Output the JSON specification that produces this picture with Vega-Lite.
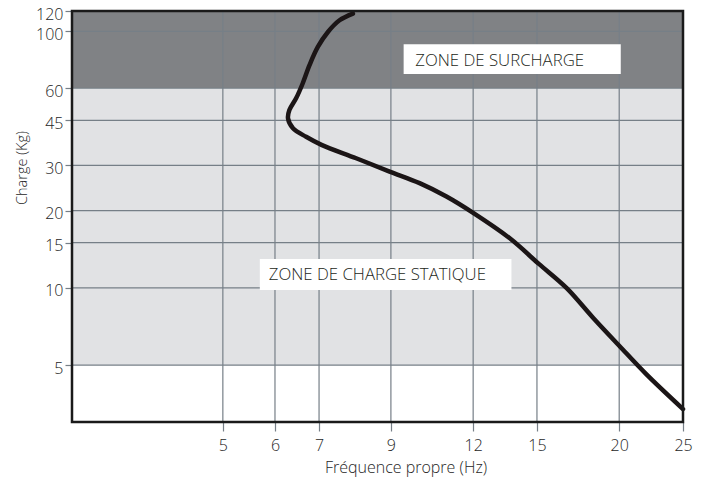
{
  "$schema": "https://vega.github.io/schema/vega-lite/v6.json",
  "autosize": "none",
  "width": 611,
  "height": 411,
  "padding": {"left": 72, "top": 11, "right": 24, "bottom": 65},
  "background": "white",
  "config": {
    "view": {"stroke": null},
    "font": "Open Sans"
  },
  "datasets": {
    "bands": [
      {"freq": 2.95, "freq2": 25, "charge": 60, "charge2": 120, "zone": "surcharge"},
      {"freq": 2.95, "freq2": 25, "charge": 5, "charge2": 60, "zone": "statique"}
    ],
    "vgrid": [{"freq": 5}, {"freq": 6}, {"freq": 7}, {"freq": 9}, {"freq": 12}, {"freq": 15}, {"freq": 20}],
    "hgrid": [{"charge": 5}, {"charge": 10}, {"charge": 15}, {"charge": 20}, {"charge": 30}, {"charge": 45}, {"charge": 60}, {"charge": 100}],
    "curve": [
      {"order": 1, "freq": 7.88, "charge": 117.2},
      {"order": 2, "freq": 7.52, "charge": 110.4},
      {"order": 3, "freq": 7.22, "charge": 99.4},
      {"order": 4, "freq": 6.97, "charge": 86.9},
      {"order": 5, "freq": 6.77, "charge": 73.8},
      {"order": 6, "freq": 6.61, "charge": 62.6},
      {"order": 7, "freq": 6.46, "charge": 54.8},
      {"order": 8, "freq": 6.31, "charge": 49.3},
      {"order": 9, "freq": 6.28, "charge": 45.8},
      {"order": 10, "freq": 6.39, "charge": 41.9},
      {"order": 11, "freq": 6.69, "charge": 38.8},
      {"order": 12, "freq": 7.06, "charge": 36.1},
      {"order": 13, "freq": 7.97, "charge": 32.0},
      {"order": 14, "freq": 8.96, "charge": 28.4},
      {"order": 15, "freq": 9.95, "charge": 25.6},
      {"order": 16, "freq": 10.93, "charge": 22.7},
      {"order": 17, "freq": 12.0, "charge": 19.6},
      {"order": 18, "freq": 13.64, "charge": 15.6},
      {"order": 19, "freq": 15.1, "charge": 12.4},
      {"order": 20, "freq": 16.63, "charge": 10.0},
      {"order": 21, "freq": 18.25, "charge": 7.65},
      {"order": 22, "freq": 20.0, "charge": 5.95},
      {"order": 23, "freq": 22.0, "charge": 4.6},
      {"order": 24, "freq": 25.0, "charge": 3.37}
    ],
    "boxes": [
      {"freq": 9.41, "freq2": 20.11, "charge": 68.1, "charge2": 89.0},
      {"freq": 5.69, "freq2": 13.72, "charge": 9.82, "charge2": 12.96}
    ],
    "labels": [
      {"freq": 9.8, "charge": 76.6, "label": "ZONE DE SURCHARGE"},
      {"freq": 5.87, "charge": 11.23, "label": "ZONE DE CHARGE STATIQUE"}
    ],
    "frame": [{"freq": 2.95, "freq2": 25, "charge": 3, "charge2": 120}]
  },
  "layer": [
    {
      "data": {"name": "bands"},
      "mark": {"type": "rect"},
      "encoding": {
        "x": {
          "field": "freq", "type": "quantitative",
          "scale": {"type": "log", "domain": [2.95, 25], "nice": false, "zero": false},
          "axis": {
            "title": "Fréquence propre (Hz)",
            "values": [5, 6, 7, 9, 12, 15, 20, 25],
            "grid": false, "domain": false,
            "tickColor": "#767f87", "tickSize": 9, "tickWidth": 1.2,
            "labelFontSize": 16, "labelColor": "#262626", "labelPadding": 6,
            "labelFlush": false, "labelOverlap": false, "labelFont": "Open Sans", "labelFontWeight": 300,
            "titleFontSize": 16, "titleFontWeight": 300, "titleColor": "#262626",
            "titleFont": "Open Sans",
            "titleX": 333.5, "titleY": 45, "titleBaseline": "middle", "titleAlign": "center"
          }
        },
        "x2": {"field": "freq2"},
        "y": {
          "field": "charge", "type": "quantitative",
          "scale": {"type": "log", "domain": [3, 120], "nice": false, "zero": false},
          "axis": {
            "title": "Charge (Kg)",
            "values": [5, 10, 15, 20, 30, 45, 60, 100, 120],
            "grid": false, "domain": false,
            "tickColor": "#767f87", "tickSize": 7, "tickWidth": 1.2,
            "labelFontSize": 16, "labelColor": "#262626", "labelPadding": 2,
            "labelFlush": false, "labelOverlap": false, "labelOffset": 3, "labelFont": "Open Sans", "labelFontWeight": 300,
            "titleFontSize": 14.5, "titleFontWeight": 300, "titleColor": "#262626",
            "titleFont": "Open Sans",
            "titleX": -49.5, "titleY": 156.5, "titleBaseline": "middle", "titleAlign": "center"
          }
        },
        "y2": {"field": "charge2"},
        "color": {
          "field": "zone", "type": "nominal",
          "scale": {"domain": ["surcharge", "statique"], "range": ["#808285", "#e1e2e4"]},
          "legend": null
        }
      }
    },
    {
      "data": {"name": "vgrid"},
      "mark": {"type": "rule", "color": "#767f87", "strokeWidth": 1.2},
      "encoding": {
        "x": {"field": "freq", "type": "quantitative"}
      }
    },
    {
      "data": {"name": "hgrid"},
      "mark": {"type": "rule", "color": "#767f87", "strokeWidth": 1.2},
      "encoding": {
        "y": {"field": "charge", "type": "quantitative"}
      }
    },
    {
      "data": {"name": "curve"},
      "mark": {"type": "line", "color": "#1b1516", "strokeWidth": 4.5, "interpolate": "catmull-rom", "strokeCap": "round", "strokeJoin": "round"},
      "encoding": {
        "x": {"field": "freq", "type": "quantitative"},
        "y": {"field": "charge", "type": "quantitative"},
        "order": {"field": "order", "type": "quantitative"}
      }
    },
    {
      "data": {"name": "boxes"},
      "mark": {"type": "rect", "color": "white"},
      "encoding": {
        "x": {"field": "freq", "type": "quantitative"},
        "x2": {"field": "freq2"},
        "y": {"field": "charge", "type": "quantitative"},
        "y2": {"field": "charge2"}
      }
    },
    {
      "data": {"name": "labels"},
      "mark": {"type": "text", "align": "left", "baseline": "middle", "fontSize": 16.8, "fontWeight": 300, "color": "#231f20", "font": "Open Sans"},
      "encoding": {
        "x": {"field": "freq", "type": "quantitative"},
        "y": {"field": "charge", "type": "quantitative"},
        "text": {"field": "label"}
      }
    },
    {
      "data": {"name": "frame"},
      "mark": {"type": "rect", "fill": "transparent", "stroke": "#1a1a1a", "strokeWidth": 2.5},
      "encoding": {
        "x": {"field": "freq", "type": "quantitative"},
        "x2": {"field": "freq2"},
        "y": {"field": "charge", "type": "quantitative"},
        "y2": {"field": "charge2"}
      }
    }
  ]
}
